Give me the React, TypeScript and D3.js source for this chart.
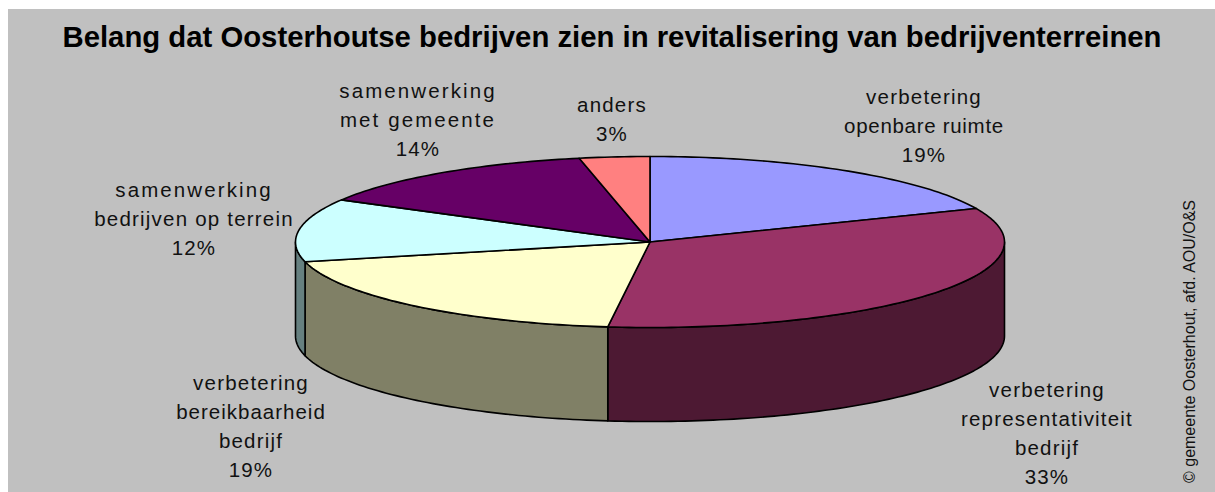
import React from 'react';
import * as d3 from 'd3';

const titleText = 'Belang dat Oosterhoutse bedrijven zien in revitalisering van bedrijventerreinen';
const creditText = '© gemeente Oosterhout, afd. AOU/O&S';

const categories = [
  'verbetering openbare ruimte',
  'verbetering representativiteit bedrijf',
  'verbetering bereikbaarheid bedrijf',
  'samenwerking bedrijven op terrein',
  'samenwerking met gemeente',
  'anders',
];
// labels round these to whole percents
const values = [18.6, 33.3, 19.4, 11.9, 13.6, 3.2];
const topColors = ['#9999ff', '#993366', '#ffffcc', '#ccffff', '#660066', '#ff8080'];
const wallColors = ['#4d4d80', '#4d1933', '#808066', '#668080', '#330033', '#804040'];
const labelLines = [
  ['verbetering', 'openbare ruimte'],
  ['verbetering', 'representativiteit', 'bedrijf'],
  ['verbetering', 'bereikbaarheid', 'bedrijf'],
  ['samenwerking', 'bedrijven op terrein'],
  ['samenwerking', 'met gemeente'],
  ['anders'],
];
const labelCenters = [
  [924, 104],
  [1047, 397],
  [251, 390],
  [194, 197],
  [418, 98],
  [612, 112],
];

const W = 1215;
const H = 492;
const cx = 650;
const cy = 242;
const rx = 354.5;
const ry = 85.5;
const depth = 94;
const lineStep = 29;

// the original's text spacing is uneven, some lines run wider than others
const lineSpacing = (t: string) => {
  if (t === 'samenwerking' || t === 'met gemeente') return 2.1;
  if (t === 'openbare ruimte') return 0.7;
  if (t === 'bereikbaarheid') return 1;
  return 1.2;
};

const project = (a: number, dy = 0): [number, number] => [
  cx + rx * Math.sin(a),
  cy + dy - ry * Math.cos(a),
];

const pie = d3.pie<number>().sort(null).startAngle(0).endAngle(2 * Math.PI);
const arcs = pie(values);
const line = d3.line();
const pct = (v: number) => d3.format('.0f')(v) + '%';

const samples = (a0: number, a1: number) => {
  const n = Math.max(2, Math.ceil((a1 - a0) / 0.02));
  return d3.range(n + 1).map((i) => a0 + ((a1 - a0) * i) / n);
};

const topPath = (a0: number, a1: number) =>
  line([[cx, cy], ...samples(a0, a1).map((a) => project(a))]) + 'Z';

// only the front half of the rim (quarter past to quarter to) is visible
const wallPath = (a0: number, a1: number) => {
  const from = Math.max(a0, Math.PI / 2);
  const to = Math.min(a1, (3 * Math.PI) / 2);
  if (to <= from) return null;
  const pts = samples(from, to);
  return (
    line([
      ...pts.map((a) => project(a)),
      ...pts.slice().reverse().map((a) => project(a, depth)),
    ]) + 'Z'
  );
};

export default function App() {
  return (
    <svg
      width={W}
      height={H}
      style={{ position: 'absolute', left: 0, top: 0, fontFamily: '"Liberation Sans", Arial, sans-serif' }}
    >
      <rect x={8} y={9} width={W - 8} height={H - 9} fill="#c0c0c0" />
      <text x={612} y={47} textAnchor="middle" fontSize={29.3} fontWeight="bold" fill="#000">
        {titleText}
      </text>
      <g stroke="#000" strokeWidth={1.6} strokeLinejoin="round">
        {arcs.map((d, i) => {
          const p = wallPath(d.startAngle, d.endAngle);
          return p ? <path key={categories[i]} d={p} fill={wallColors[i]} /> : null;
        })}
        {arcs.map((d, i) => (
          <path key={categories[i]} d={topPath(d.startAngle, d.endAngle)} fill={topColors[i]} />
        ))}
      </g>
      <g fontSize={20.5} fill="#111" textAnchor="middle">
        {labelLines.map((lines, i) => (
          <text key={categories[i]} x={labelCenters[i][0]} y={labelCenters[i][1]}>
            {[...lines, pct(values[i])].map((t, j) => (
              <tspan
                key={j}
                x={labelCenters[i][0]}
                y={labelCenters[i][1] + j * lineStep}
                letterSpacing={lineSpacing(t)}
              >
                {t}
              </tspan>
            ))}
          </text>
        ))}
      </g>
      <text transform="translate(1195,483) rotate(-90)" fontSize={16} fill="#111">
        {creditText}
      </text>
    </svg>
  );
}
